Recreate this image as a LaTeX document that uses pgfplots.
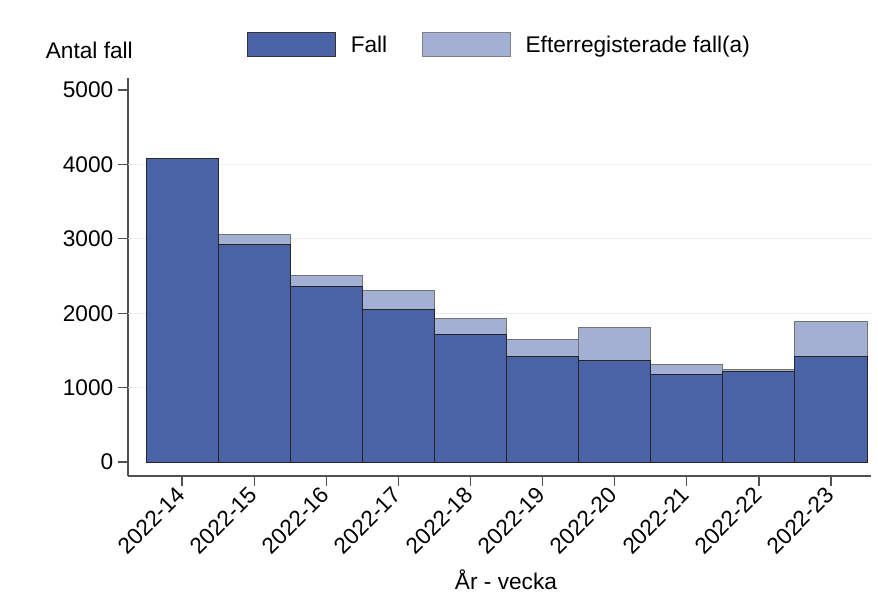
\documentclass[border=0pt]{standalone}
\usepackage{pgfplots}
\pgfplotsset{compat=1.18}
\usepackage{fontspec}
\setmainfont{Liberation Sans}
\definecolor{fallc}{HTML}{4A62A6}
\definecolor{efterc}{HTML}{A3B0D3}
\definecolor{gridc}{HTML}{EAF1F3}
\definecolor{axc}{HTML}{505050}

\begin{document}
\begin{tikzpicture}[font=\fontsize{17}{20}\selectfont]
\begin{axis}[
  name=ax,
  scale only axis,
  width=557pt, height=298.5pt,
  xmin=-0.75, xmax=9.55,
  ymin=-188, ymax=5161,
  axis x line*=bottom, axis y line*=left,
  axis line style={axc, line width=0.9pt, -},
  ybar stacked, bar width=1,
  xtick={0,...,9},
  xticklabels={2022-14,2022-15,2022-16,2022-17,2022-18,2022-19,2022-20,2022-21,2022-22,2022-23},
  xticklabel style={rotate=45, anchor=east, yshift=-2pt},
  ytick={0,1000,...,5000},
  tick style={axc, line width=0.9pt},
  tick align=outside,
  major tick length=7.5pt,
  /pgf/number format/1000 sep={},
  /pgf/number format/assume math mode=true,
  extra y ticks={1000,2000,3000,4000},
  extra y tick labels={},
  extra y tick style={grid=major, major tick length=0pt},
  grid style={gridc, line width=0.9pt},
  legend columns=2,
  legend style={at={(0.160,1.083)}, anchor=west, draw=none, fill=none, inner sep=0pt,
    nodes={inner sep=0pt, anchor=west},
    /tikz/every odd column/.append style={column sep=11pt},
    /tikz/every even column/.append style={column sep=26pt}},
]
\addplot[fill=fallc, draw=black!85, line width=0.75pt,
  legend image code/.code={\draw[fill=fallc, draw=black!80, line width=0.75pt] (0pt,-9pt) rectangle (66pt,9pt);}]
  coordinates {(0,4080) (1,2920) (2,2363) (3,2050) (4,1717) (5,1422) (6,1359) (7,1175) (8,1211) (9,1413)};
\addlegendentry{Fall}
\addplot[fill=efterc, draw=black!55, line width=0.75pt,
  legend image code/.code={\draw[fill=efterc, draw=black!50, line width=0.75pt] (0pt,-9pt) rectangle (66pt,9pt);}]
  coordinates {(0,0) (1,143) (2,147) (3,260) (4,213) (5,224) (6,448) (7,130) (8,36) (9,470)};
\addlegendentry{Efterregisterade fall(a)}
\end{axis}
\node at ([shift={(-29pt,319.5pt)}]ax.south west) {Antal fall};
\node[inner sep=0pt] at ([shift={(283.5pt,-78pt)}]ax.south west) {År - vecka};
\pgfresetboundingbox
\path ([shift={(-96pt,-88.5pt)}]ax.south west) rectangle ([shift={(562.5pt,357pt)}]ax.south west);
\end{tikzpicture}
\end{document}
